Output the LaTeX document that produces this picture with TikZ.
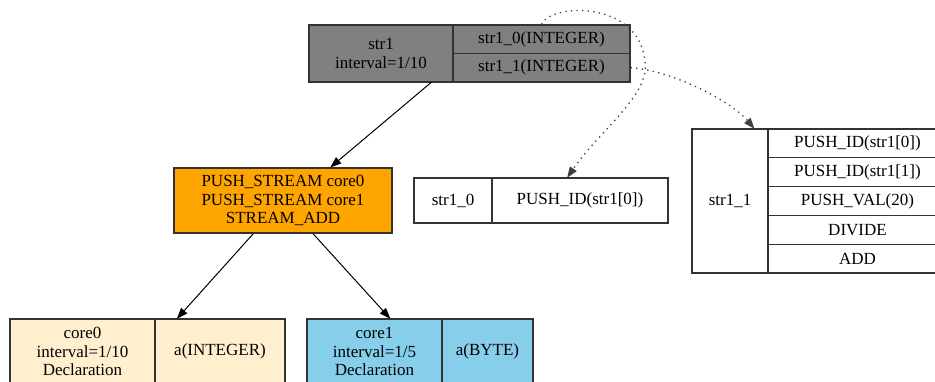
\documentclass[tikz,border=0pt]{standalone}
\usepackage{fontspec}
\setmainfont{Liberation Serif}
\usetikzlibrary{arrows.meta}

\definecolor{recgray}{HTML}{808080}
\definecolor{streamorange}{HTML}{FFA500}
\definecolor{coreA}{HTML}{FFEFCF}
\definecolor{coreB}{HTML}{87CEEB}
\definecolor{rule}{HTML}{333333}

\tikzset{
  cell/.style={rectangle, draw=rule, line width=1.2pt, inner sep=0pt, align=center,
    font=\fontsize{17}{18.5}\selectfont},
  record/.style={rectangle, inner sep=0pt},
  flow/.style={draw=black, line width=1pt, -{Triangle[length=11pt,width=8pt]}},
  portlink/.style={draw=black!75, line width=1.3pt, dash pattern=on 1.3pt off 4.3pt,
    -{Triangle[length=11pt,width=8pt]}}
}

\begin{document}
\begin{tikzpicture}[x=1pt, y=-1pt]
\useasboundingbox (0,0) rectangle (935,381);
\clip (0,0) rectangle (935,381);

% stream record str1
\node[cell, fill=recgray, minimum width=144pt, minimum height=57pt] (s1main) at (381,53.5) {str1\\interval=1/10};
\node[cell, fill=recgray, minimum width=177pt, minimum height=28.5pt] (s10) at (541.5,39.25) {str1\_0(INTEGER)};
\node[cell, fill=recgray, minimum width=177pt, minimum height=28.5pt] (s11) at (541.5,67.75) {str1\_1(INTEGER)};
\node[record, minimum width=321pt, minimum height=57pt] (str1rec) at (469.5,53.5) {};

% stream operations
\node[cell, fill=streamorange, minimum width=218pt, minimum height=65pt] (ops) at (283,200.5)
  {PUSH\_STREAM core0\\PUSH\_STREAM core1\\STREAM\_ADD};

% field str1_0
\node[cell, fill=white, minimum width=78pt, minimum height=45pt] (f0name) at (453,200.5) {str1\_0};
\node[cell, fill=white, minimum width=176pt, minimum height=45pt] (f0code) at (580,200.5) {PUSH\_ID(str1[0])};
\node[record, minimum width=254pt, minimum height=45pt] (f0rec) at (541,200.5) {};

% field str1_1
\node[cell, fill=white, minimum width=76pt, minimum height=144pt] (f1name) at (730,201) {str1\_1};
\node[cell, fill=white, minimum width=179pt, minimum height=28.8pt] (f1a) at (857.5,143.4) {PUSH\_ID(str1[0])};
\node[cell, fill=white, minimum width=179pt, minimum height=28.8pt] (f1b) at (857.5,172.2) {PUSH\_ID(str1[1])};
\node[cell, fill=white, minimum width=179pt, minimum height=28.8pt] (f1c) at (857.5,201) {PUSH\_VAL(20)};
\node[cell, fill=white, minimum width=179pt, minimum height=28.8pt] (f1d) at (857.5,229.8) {DIVIDE};
\node[cell, fill=white, minimum width=179pt, minimum height=28.8pt] (f1e) at (857.5,258.6) {ADD};
\node[record, minimum width=255pt, minimum height=144pt] (f1rec) at (819.5,201) {};

% cores
\node[cell, fill=coreA, minimum width=145pt, minimum height=65pt] (c0main) at (82.5,351.5) {core0\\interval=1/10\\Declaration};
\node[cell, fill=coreA, minimum width=130pt, minimum height=65pt] (c0var) at (220,351.5) {a(INTEGER)};
\node[record, minimum width=275pt, minimum height=65pt] (c0rec) at (147.5,351.5) {};

\node[cell, fill=coreB, minimum width=135pt, minimum height=65pt] (c1main) at (374.5,351.5) {core1\\interval=1/5\\Declaration};
\node[cell, fill=coreB, minimum width=91pt, minimum height=65pt] (c1var) at (487.5,351.5) {a(BYTE)};
\node[record, minimum width=226pt, minimum height=65pt] (c1rec) at (420,351.5) {};

% control flow
\draw[flow] (str1rec.217) -- (ops.35);
\draw[flow] (ops) -- (c0rec);
\draw[flow] (ops) -- (c1rec);

% field links
\draw[portlink] (s10.north) .. controls (550,3) and (640,0) .. (645,62)
  .. controls (650,95) and (600,130) .. (f0rec.41);
\draw[portlink] (s11.east) .. controls (670,70) and (730,100) .. (f1rec.132);
\end{tikzpicture}
\end{document}
